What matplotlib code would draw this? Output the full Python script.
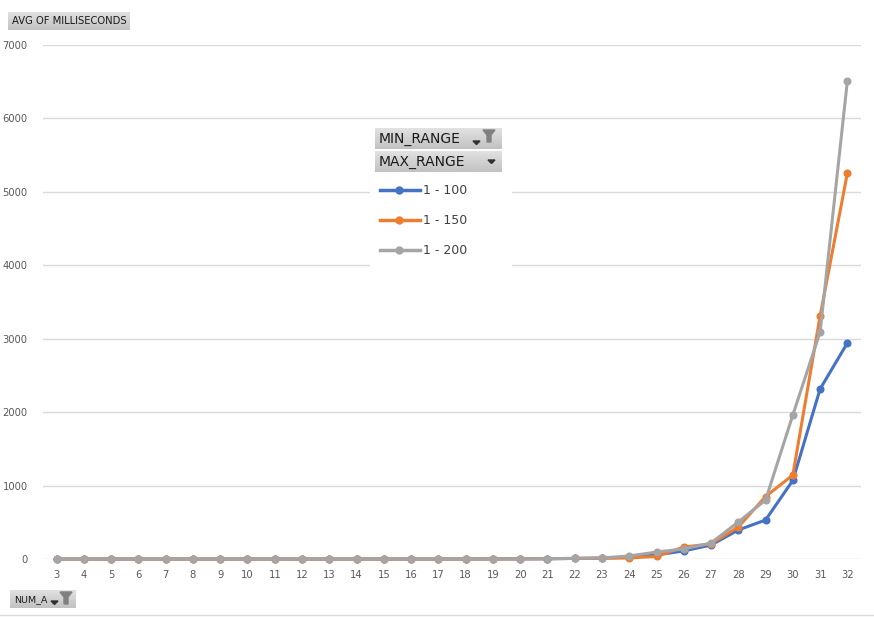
import numpy as np
import matplotlib
matplotlib.use('Agg')
import matplotlib.pyplot as plt
from matplotlib.patches import Rectangle, Polygon

num_a = [3, 4, 5, 6, 7, 8, 9, 10, 11, 12, 13, 14, 15, 16, 17, 18, 19, 20, 21,
         22, 23, 24, 25, 26, 27, 28, 29, 30, 31, 32]
r100 = [0, 0, 0, 0, 0, 0, 0, 0, 0, 0, 0, 0, 0, 0, 0, 0, 1, 2, 4,
        7, 12, 25, 55, 110, 190, 395, 531, 1070, 2315, 2942]
r150 = [0, 0, 0, 0, 0, 0, 0, 0, 0, 0, 0, 0, 0, 0, 0, 0, 1, 2, 4,
        8, 10, 14, 35, 163, 205, 436, 850, 1144, 3309, 5255]
r200 = [0, 0, 0, 0, 0, 0, 0, 0, 0, 0, 0, 0, 0, 0, 0, 0, 1, 2, 4,
        9, 15, 41, 95, 136, 218, 504, 803, 1961, 3091, 6510]
series = [('1 - 100', r100, '#4472C4'),
          ('1 - 150', r150, '#ED7D31'),
          ('1 - 200', r200, '#A5A5A5')]
y_ticks = [0, 1000, 2000, 3000, 4000, 5000, 6000, 7000]

W, H = 874, 617
fig = plt.figure(figsize=(W / 100, H / 100), dpi=100)

# main plot area in pixel coords
x0, x1 = 43, 861
y_top, y_bot = 45, 559
ax = fig.add_axes([x0 / W, 1 - y_bot / H, (x1 - x0) / W, (y_bot - y_top) / H])
for name, vals, col in series:
    ax.plot(num_a, vals, color=col, lw=2.2, marker='o', ms=4.8, label=name, clip_on=False)
ax.set_xlim(2.5, 32.5)
ax.set_ylim(0, 7000)
ax.set_yticks(y_ticks)
ax.set_xticks(num_a)
ax.grid(axis='y', color='#d9d9d9', lw=1)
ax.set_axisbelow(True)
for s in ax.spines.values():
    s.set_visible(False)
ax.tick_params(length=0, labelsize=7.2, labelcolor='#595959')
ax.tick_params(axis='y', pad=11)
ax.tick_params(axis='x', pad=8)

# overlay for buttons and legend, pixel coordinates
ov = fig.add_axes([0, 0, 1, 1], zorder=5)
ov.set_xlim(0, W)
ov.set_ylim(H, 0)
ov.axis('off')


def button(x, y, w, h, text, fs=7):
    grad = np.linspace(0.88, 0.76, 20).reshape(-1, 1)
    ov.imshow(grad, extent=(x, x + w, y + h, y), cmap='gray', vmin=0, vmax=1,
              aspect='auto', zorder=6)
    ov.text(x + 4, y + h / 2 + 0.5, text, fontsize=fs, color='#1a1a1a',
            va='center', ha='left', zorder=7)


def funnel(x, y):
    ov.add_patch(Polygon([(x, y), (x + 12, y), (x + 8, y + 5), (x + 8, y + 12),
                          (x + 4, y + 12), (x + 4, y + 5)], closed=True,
                         color='#808080', zorder=7))


def arrow(x, y):
    ov.add_patch(Polygon([(x, y), (x + 7, y), (x + 3.5, y + 3.5)], closed=True,
                         color='#303030', zorder=7))


button(8, 12, 122, 18, 'AVG OF MILLISECONDS', fs=7.2)
button(10, 590, 66, 18, 'NUM_A', fs=6.8)
arrow(51, 601)
funnel(60, 592)

# legend box
ov.add_patch(Rectangle((370, 128), 142, 140, facecolor='white', edgecolor='none', zorder=5))
button(375, 128, 127, 21, 'MIN_RANGE', fs=10)
arrow(473, 141)
funnel(483, 130)
button(375, 151, 127, 21, 'MAX_RANGE', fs=10)
arrow(488, 160)
for i, (name, vals, col) in enumerate(series):
    yy = 190 + 30 * i
    ov.plot([380, 420], [yy, yy], color=col, lw=2.5, zorder=7)
    ov.plot([399], [yy], marker='o', ms=5, color=col, zorder=8)
    ov.text(423, yy, name, fontsize=9, color='#404040', va='center', ha='left', zorder=8)

ov.plot([0, W], [615, 615], color='#d9d9d9', lw=1)

fig.savefig('out.png', dpi=100)
